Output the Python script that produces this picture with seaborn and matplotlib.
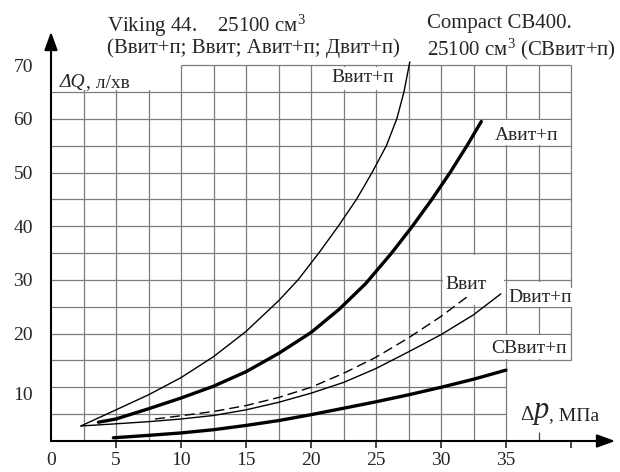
import numpy as np
import matplotlib
matplotlib.use('Agg')
import matplotlib.pyplot as plt
import matplotlib.transforms as mtransforms
from matplotlib.patches import Rectangle
import seaborn as sns

sns.set_style('white')
plt.rcParams['font.family'] = ['Liberation Serif', 'DejaVu Serif']
plt.rcParams['mathtext.fontset'] = 'custom'
plt.rcParams['mathtext.rm'] = 'Liberation Serif'
plt.rcParams['mathtext.it'] = 'Liberation Serif:italic'

# Криві ΔQ (л/хв) від Δp (МПа)
bvp_x = [2.3, 5, 7.5, 10, 12.5, 15, 17.5, 19.0, 20.6, 22.1, 23.5, 24.7, 25.8, 26.6, 27.15, 27.6]
bvp_y = [2.8, 5.8, 8.6, 11.8, 15.7, 20.4, 26.1, 30.0, 35, 40, 45, 50, 55, 60, 65, 70.6]

avp_x = [3.65, 5, 7.5, 10, 12.5, 15, 17.5, 20, 22.2, 24.2, 26.2, 27.8, 29.3, 30.7, 32.0, 33.1]
avp_y = [3.5, 4.1, 6.0, 8.0, 10.2, 12.9, 16.3, 20.2, 24.6, 29.3, 35, 40, 45, 50, 55, 59.5]

bv_x = [8.0, 10, 12.5, 15, 17.5, 20, 22.5, 25, 27.5, 30, 32.2]
bv_y = [4.1, 4.7, 5.5, 6.6, 8.1, 10.0, 12.6, 15.6, 19.2, 23.2, 27.2]

dvp_x = [2.3, 5, 7.5, 10, 12.5, 15, 17.5, 20, 22.5, 25, 27.5, 30, 32.5, 34.6]
dvp_y = [2.8, 3.2, 3.6, 4.1, 4.75, 5.8, 7.2, 8.9, 10.9, 13.5, 16.6, 19.8, 23.5, 27.4]

cb_x = [4.8, 7.5, 10, 12.5, 15, 17.5, 20, 22.5, 25, 27.5, 30, 32.5, 35]
cb_y = [0.6, 1.05, 1.5, 2.1, 2.9, 3.8, 4.9, 6.1, 7.3, 8.6, 10.0, 11.5, 13.2]

x_ticks = [0, 5, 10, 15, 20, 25, 30, 35, 40]
x_labels = ['0', '5', '10', '15', '20', '25', '30', '35', '']
y_ticks = [10, 20, 30, 40, 50, 60, 70]

fig = plt.figure(figsize=(6.2, 4.72), dpi=100)
ax = fig.add_axes([51 / 620, 31 / 472, 569 / 620, 441 / 472])
ax.set_xlim(0, 569 / 13)
ax.set_ylim(0, 441 / 5.37)
for s in ax.spines.values():
    s.set_visible(False)

# сітка
gc = '#7d7d7d'
ax.vlines(np.arange(2.5, 35.1, 2.5), 0, 70, color=gc, lw=0.9, zorder=1)
ax.vlines([37.5, 40], 15, 70, color=gc, lw=0.9, zorder=1)
ax.hlines([5, 10], 0, 35, color=gc, lw=0.9, zorder=1)
ax.hlines(np.arange(15, 66, 5), 0, 40, color=gc, lw=0.9, zorder=1)
ax.hlines([70], 10, 40, color=gc, lw=0.9, zorder=1)

# білі ділянки під підписами
masks = [(0.0, 9.88, 65.3, 71), (20.12, 27.38, 65.3, 69.7), (32.62, 39.88, 55.3, 59.7),
         (30.12, 34.88, 25.3, 34.7), (35.12, 39.88, 25.3, 29.7), (32.62, 39.88, 15.3, 19.7)]
for x0, x1, y0, y1 in masks:
    ax.add_patch(Rectangle((x0, y0), x1 - x0, y1 - y0, fc='white', ec='none', zorder=1.5))

# криві
sns.lineplot(x=bvp_x, y=bvp_y, ax=ax, color='black', lw=1.0, sort=False, estimator=None, zorder=3)
sns.lineplot(x=avp_x, y=avp_y, ax=ax, color='black', lw=2.4, sort=False, estimator=None, zorder=3)
sns.lineplot(x=bv_x, y=bv_y, ax=ax, color='black', lw=1.0, linestyle=(0, (7.2, 3.6)),
             sort=False, estimator=None, zorder=3)
sns.lineplot(x=dvp_x, y=dvp_y, ax=ax, color='black', lw=1.0, sort=False, estimator=None, zorder=3)
sns.lineplot(x=cb_x, y=cb_y, ax=ax, color='black', lw=2.4, sort=False, estimator=None, zorder=3)

# осі зі стрілками
arr = dict(arrowstyle='-|>,head_length=0.55,head_width=0.2', lw=1.5, color='black',
           mutation_scale=20, shrinkA=0, shrinkB=0)
ax.annotate('', xy=(43.4, 0), xytext=(0, 0), arrowprops=arr, annotation_clip=False, zorder=4)
ax.annotate('', xy=(0, 76.2), xytext=(0, 0), arrowprops=arr, annotation_clip=False, zorder=4)

ax.set_xticks(x_ticks, labels=x_labels)
ax.set_xticks([37.5, 40], minor=True)
ax.tick_params(axis='x', which='major', direction='out', length=5, width=1.2, pad=3,
               labelsize=14, bottom=True)
ax.tick_params(axis='x', which='minor', direction='in', length=6.5, width=0.9, color='#444444',
               bottom=True)
ax.xaxis.get_major_ticks()[0].tick1line.set_visible(False)
ax.set_yticks(y_ticks)
ax.tick_params(axis='y', length=0, pad=13, labelsize=14, left=True)
lab10 = ax.get_yticklabels()[0]
lab10.set_transform(lab10.get_transform() + mtransforms.ScaledTranslation(0, -6 / 100, fig.dpi_scale_trans))

# підписи кривих
box = dict(fc='white', ec='none', pad=1)
ax.text(21.6, 66.8, 'Ввит+п', fontsize=14, va='baseline', zorder=2)
ax.text(34.15, 56.05, 'Авит+п', fontsize=14, va='baseline', bbox=box, zorder=2)
ax.text(30.3, 28.25, 'Ввит', fontsize=14, va='baseline', bbox=box, zorder=2)
ax.text(35.2, 25.9, 'Dвит+п', fontsize=14, va='baseline', bbox=box, zorder=2)
ax.text(33.9, 16.45, 'CBвит+п', fontsize=14, va='baseline', bbox=box, zorder=2)

# назви осей
tq = ax.text(0.7, 65.9, 'ΔQ', fontsize=14, style='italic', va='baseline', zorder=5)
ax.annotate(', л/хв', xy=(1, 0), xycoords=tq, fontsize=14, va='bottom', zorder=5)
td = ax.text(36.1, 4.0, 'Δ', fontsize=15, va='baseline', zorder=5)
tp = ax.annotate('p', xy=(1, 0), xycoords=td, fontsize=22, style='italic', va='bottom', zorder=5)
ax.annotate(', МПа', xy=(1, 0), xycoords=tp, fontsize=14, va='bottom', zorder=5)

# заголовки
fig.text(107 / 620, 1 - 31.7 / 472, 'Viking 44.    25100 см$^3$', fontsize=15, va='baseline')
fig.text(107 / 620, 1 - 53.5 / 472, '(Ввит+п; Ввит; Авит+п; Двит+п)', fontsize=15, va='baseline')
fig.text(427 / 620, 1 - 28.3 / 472, 'Compact CB400.', fontsize=15, va='baseline')
fig.text(427 / 620, 1 - 55 / 472, '25100 см$^3$ (CBвит+п)', fontsize=15, va='baseline')

fig.savefig('out.png', dpi=100)
